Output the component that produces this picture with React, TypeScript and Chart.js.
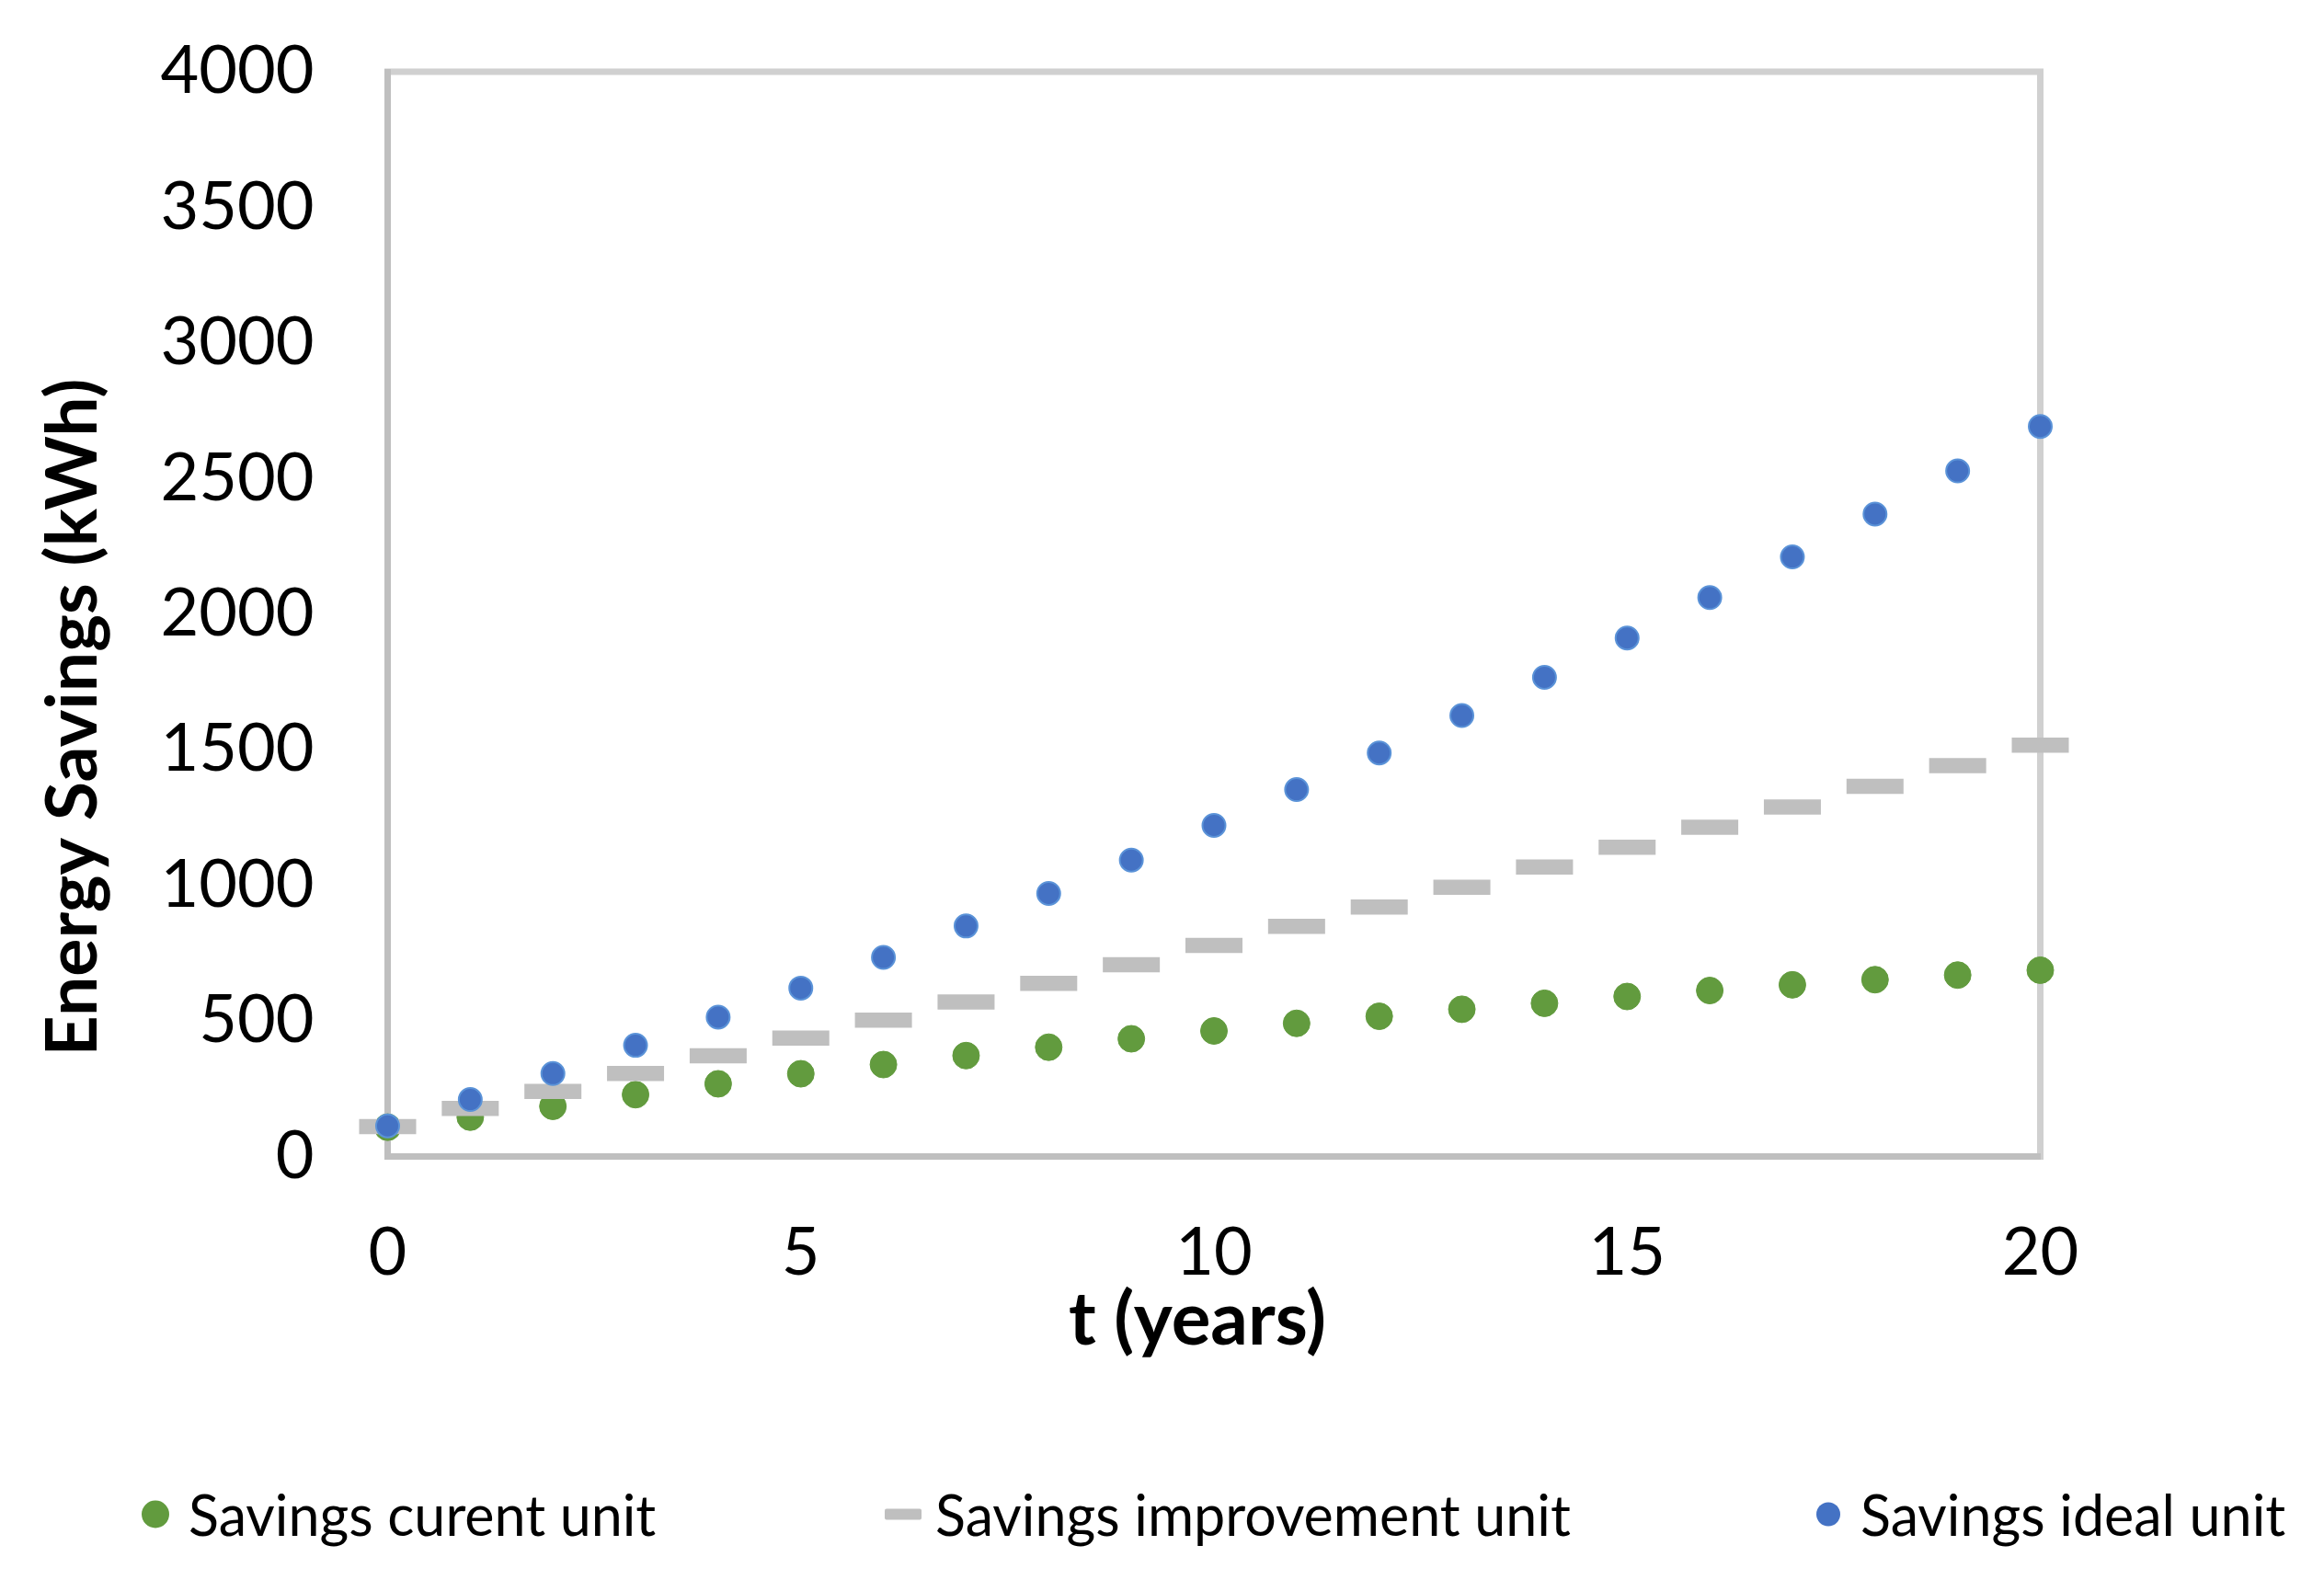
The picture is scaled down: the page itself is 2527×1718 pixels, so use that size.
import { useEffect, useRef } from 'react';
import { Chart, registerables } from 'chart.js';

Chart.register(...registerables);

// t (years)
const years = [0, 1, 2, 3, 4, 5, 6, 7, 8, 9, 10, 11, 12, 13, 14, 15, 16, 17, 18, 19, 20];

// Energy savings (kWh)
const savingsCurrent = [108, 145, 185, 228, 268, 305, 339, 372, 403, 434, 463, 491, 517, 543, 565, 590, 612, 633, 652, 669, 687];
const savingsImprovement = [110, 177, 240, 306, 371, 437, 503, 570, 638, 707, 778, 849, 920, 993, 1067, 1140, 1214, 1289, 1365, 1441, 1517];
const savingsIdeal = [113, 210, 306, 410, 514, 621, 734, 850, 970, 1093, 1221, 1353, 1488, 1626, 1767, 1912, 2061, 2211, 2369, 2528, 2692];

const seriesNames = ['Savings curent unit', 'Savings improvement unit', 'Savings ideal unit'];

const xTicks = [0, 5, 10, 15, 20];
const yTicks = [0, 500, 1000, 1500, 2000, 2500, 3000, 3500, 4000];

const xTitle = 't (years)';
const yTitle = 'Energy Savings (kWh)';

const GREEN = '#629b3e';
const GRAY = '#bfbfbf';
const BLUE = '#4472c4';
const FONT = 'Lato';

const W = 2527;
const H = 1718;

const framePlugin = {
  id: 'frame',
  beforeDraw(chart: Chart) {
    const { ctx, chartArea: a } = chart;
    ctx.save();
    ctx.fillStyle = '#ffffff';
    ctx.fillRect(0, 0, chart.width, chart.height);
    ctx.strokeStyle = '#d0d0d0';
    ctx.lineWidth = 7;
    ctx.strokeRect(a.left, a.top, a.right - a.left, a.bottom - a.top);
    ctx.restore();
  },
  afterDraw(chart: Chart) {
    // axis titles are a little off-centre in the original, so place them by hand
    const { ctx } = chart;
    ctx.save();
    ctx.fillStyle = '#000';
    ctx.textAlign = 'center';
    ctx.textBaseline = 'middle';
    ctx.font = `bold 80px ${FONT}`;
    ctx.fillText(xTitle, 1302, 1436);
    ctx.translate(80, 780);
    ctx.rotate(-Math.PI / 2);
    ctx.font = `bold 77px ${FONT}`;
    ctx.fillText(yTitle, 0, 0);
    ctx.restore();
  },
};

function LegendItem({ left, marker, text }: { left: number; marker: JSX.Element; text: string }) {
  return (
    <div style={{ position: 'absolute', left, top: 1646, transform: 'translateY(-50%)', display: 'flex', alignItems: 'center', whiteSpace: 'nowrap' }}>
      {marker}
      <span style={{ font: `61px ${FONT}`, color: '#000', lineHeight: 1 }}>{text}</span>
    </div>
  );
}

export default function App() {
  const canvasRef = useRef<HTMLCanvasElement>(null);
  const chartRef = useRef<Chart | null>(null);

  useEffect(() => {
    if (!canvasRef.current) return;
    if (chartRef.current) chartRef.current.destroy();

    const toPoints = (vals: number[]) => years.map((t, i) => ({ x: t, y: vals[i] }));

    chartRef.current = new Chart(canvasRef.current, {
      type: 'scatter',
      data: {
        datasets: [
          {
            label: seriesNames[0],
            data: toPoints(savingsCurrent),
            pointStyle: 'circle',
            pointRadius: 14.5,
            backgroundColor: GREEN,
            borderColor: GREEN,
            borderWidth: 1,
            order: 2,
            clip: false,
          },
          {
            label: seriesNames[1],
            data: toPoints(savingsImprovement),
            pointStyle: 'line',
            pointRadius: 31,
            backgroundColor: GRAY,
            borderColor: GRAY,
            borderWidth: 16.5,
            order: 1,
            clip: false,
          },
          {
            label: seriesNames[2],
            data: toPoints(savingsIdeal),
            pointStyle: 'circle',
            pointRadius: 12.5,
            backgroundColor: BLUE,
            borderColor: '#5b93d8',
            borderWidth: 2,
            order: 0,
            clip: false,
          },
        ],
      },
      options: {
        responsive: false,
        devicePixelRatio: 1,
        animation: false,
        layout: { padding: { left: 0, top: 78, right: W - 2218.5, bottom: H - 1257.5 - 224 } },
        plugins: {
          legend: { display: false },
          tooltip: { enabled: false },
        },
        scales: {
          x: {
            type: 'linear',
            min: 0,
            max: 20,
            afterBuildTicks: (scale) => {
              scale.ticks = xTicks.map((v) => ({ value: v }));
            },
            afterFit: (scale) => {
              scale.height = 224;
            },
            // invisible tick marks give the gap between axis and labels
            grid: { display: false, drawTicks: true, tickLength: 62 },
            border: { display: true, color: GRAY, width: 7 },
            ticks: { color: '#000', font: { family: FONT, size: 72 }, padding: 0, maxRotation: 0, callback: (v) => String(v) },
          },
          y: {
            type: 'linear',
            min: 0,
            max: 4000,
            afterBuildTicks: (scale) => {
              scale.ticks = yTicks.map((v) => ({ value: v }));
            },
            afterFit: (scale) => {
              scale.width = 421.5;
            },
            grid: { display: false, drawTicks: true, tickLength: 80 },
            border: { display: true, color: GRAY, width: 7 },
            ticks: { color: '#000', font: { family: FONT, size: 72 }, padding: 0, callback: (v) => String(v) },
          },
        },
      },
      plugins: [framePlugin],
    });

    return () => {
      if (chartRef.current) {
        chartRef.current.destroy();
        chartRef.current = null;
      }
    };
  }, []);

  return (
    <div style={{ position: 'fixed', left: 0, top: 0, width: W, height: H, background: '#fff' }}>
      <canvas ref={canvasRef} width={W} height={H} style={{ width: W, height: H, display: 'block' }}></canvas>
      <LegendItem
        left={154}
        text={seriesNames[0]}
        marker={<span style={{ width: 30, height: 30, borderRadius: '50%', background: GREEN, marginRight: 21, display: 'inline-block' }} />}
      />
      <LegendItem
        left={962}
        text={seriesNames[1]}
        marker={<span style={{ width: 40, height: 12, borderRadius: 2, background: GRAY, marginRight: 15, display: 'inline-block' }} />}
      />
      <LegendItem
        left={1975}
        text={seriesNames[2]}
        marker={<span style={{ width: 26, height: 26, borderRadius: '50%', background: BLUE, marginRight: 22, display: 'inline-block' }} />}
      />
    </div>
  );
}
